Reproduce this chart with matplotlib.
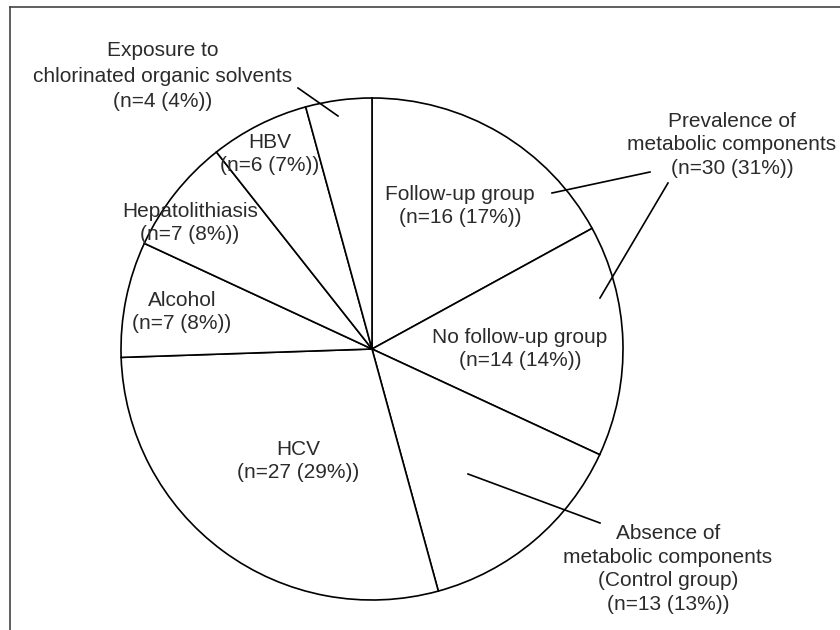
import matplotlib
matplotlib.use("Agg")
import matplotlib.pyplot as plt

# Data (clockwise from 12 o'clock)
names = ["Follow-up group", "No follow-up group", "Absence", "HCV", "Alcohol",
         "Hepatolithiasis", "HBV", "Exposure"]
counts = [16, 14, 13, 27, 7, 7, 6, 4]
pcts = [17, 14, 13, 29, 8, 8, 7, 4]
prevalence_n = 30
prevalence_pct = 31

W, H = 840, 630
TXT = "#2b2b2b"

fig = plt.figure(figsize=(W / 100, H / 100), dpi=100)
ax = fig.add_axes([0, 0, 1, 1])


def Y(y):
    # image row -> axis y
    return H - y


# pie
ax.pie(counts, startangle=90, counterclock=False, center=(372, Y(349)), radius=251,
       colors=["white"] * len(counts),
       wedgeprops=dict(edgecolor="black", linewidth=1.2), frame=True)
ax.set_xlim(0, W)
ax.set_ylim(0, H)
ax.set_aspect("equal")
ax.axis("off")

# frame (top + left only, cropped figure)
ax.plot([10, W], [Y(7), Y(7)], color="#444444", lw=1.2, clip_on=False)
ax.plot([10, 10], [Y(7), 0], color="#444444", lw=1.2, clip_on=False)


def label(x, y, s, ls=1.32):
    ax.text(x, Y(y), s, ha="center", va="center", multialignment="center",
            fontsize=15, family="Liberation Sans", color=TXT, linespacing=ls)


def line_of(i):
    return f"(n={counts[i]} ({pcts[i]}%))"


label(460, 206, f"{names[0]}\n{line_of(0)}")
label(520, 349, f"{names[1]}\n{line_of(1)}")
label(298, 461, f"{names[3]}\n{line_of(3)}")
label(182, 312, f"{names[4]}\n{line_of(4)}")
label(190, 223, f"{names[5]}\n{line_of(5)}")
label(270, 154, f"{names[6]}\n{line_of(6)}")
label(163, 76, f"Exposure to\nchlorinated organic solvents\n{line_of(7)}", ls=1.45)
label(732, 145, f"Prevalence of\nmetabolic components\n(n={prevalence_n} ({prevalence_pct}%))")
label(668, 569, f"Absence of\nmetabolic components\n(Control group)\n{line_of(2)}")

# leader lines
lk = dict(color="black", lw=1.2)
ax.plot([298, 338], [Y(88), Y(116)], **lk)
ax.plot([552, 650], [Y(193), Y(172)], **lk)
ax.plot([668, 600], [Y(183), Y(298)], **lk)
ax.plot([468, 600], [Y(474), Y(523)], **lk)

fig.savefig("out.png", dpi=100, facecolor="white")
